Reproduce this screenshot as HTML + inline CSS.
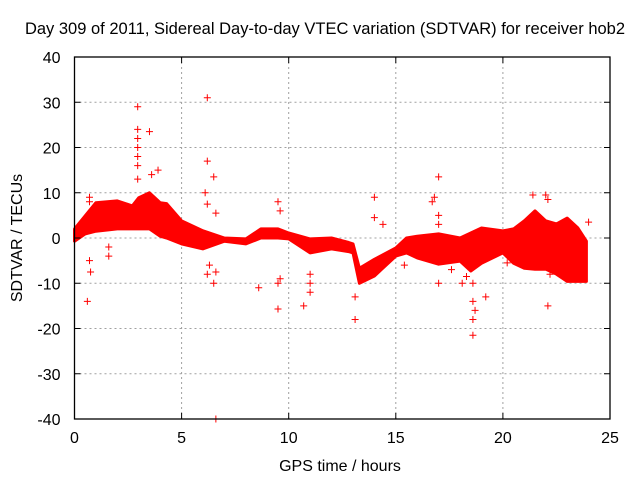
<!DOCTYPE html>
<html><head><meta charset="utf-8"><style>
body{margin:0;background:#fff}
svg{display:block;font-family:"Liberation Sans",Arial,sans-serif}
</style></head><body>
<svg id="chart" width="640" height="480" viewBox="0 0 640 480">
<text x="325" y="34" font-size="16.5" text-anchor="middle" fill="#000">Day 309 of 2011, Sidereal Day-to-day VTEC variation (SDTVAR) for receiver hob2</text>
<text transform="translate(22,238) rotate(-90)" font-size="16" text-anchor="middle">SDTVAR / TECUs</text>
<text x="340" y="471" font-size="16" text-anchor="middle">GPS time / hours</text>
<g id="grid"></g>
<g id="band"></g>
<g id="pts"></g>
<g id="axes"></g>
</svg>
<script>
const xTicks=[0,5,10,15,20,25];
const yTicks=[-40,-30,-20,-10,0,10,20,30,40];
const bandHours=[0,0.5,1,2,2.7,3,3.5,4,4.3,5,6,7,8,8.7,9.5,10,11,12,12.8,13,13.3,14,15,15.5,16,17,18,18.5,19,20,20.5,21,21.5,22,22.5,23,23.5,23.9];
const bandUpper=[2,4.9,7.8,8.2,7.1,8.9,10,7.8,7.6,3.8,1.6,0,-0.2,2,2,1.1,-0.2,0,-1,-1.3,-6.7,-4.7,-2.2,0,0.4,0.9,0,1.1,2.2,1.6,2,3.8,6,3.8,3.1,4.4,2.2,-0.7];
const bandLower=[-0.7,0.9,1.5,2,2,2,2,0.4,0,-1.3,-2.4,-0.7,-1.3,0,0,-0.2,-3.3,-2.4,-3,-3.3,-10,-8.4,-4,-3.3,-4.4,-5.8,-5.1,-7.3,-5.6,-3.3,-5.6,-6.7,-6.9,-6.9,-8,-9.6,-9.6,-9.6];
const ptHours=[2.95,2.95,2.95,2.95,2.95,2.95,2.95,3.5,6.2,6.2,6.5,6.1,6.2,6.6,3.9,3.6,0.7,0.7,0.7,0.75,0.6,1.6,1.6,6.6,6.5,6.6,6.2,8.6,9.5,9.5,9.5,9.6,10.7,11,11,11,13.1,13.1,14,14,14.4,15.4,16.8,16.7,17,17,17,18.6,18.6,18.6,18.6,18.7,19.2,21.4,22,22.1,22.1,22.2,24,18.1,18.3,17.6,17,20.2,9.6,6.3];
const ptValues=[29,24,22,20,18,16,13,23.5,31,17,13.5,10,7.5,5.5,15,14,9,8,-5,-7.5,-14,-2,-4,-40,-10,-7.5,-8,-11,-15.7,-10,8,6,-15,-12,-10,-8,-18,-13,9,4.5,3,-6,9,8,13.5,5,3,-21.5,-18,-14,-10,-16,-13,9.5,9.5,8.5,-15,-8,3.5,-10,-8.5,-7,-10,-5.5,-9,-6];
const X0=74.5,X1=610,Y0=419,Y1=57;
const sx=h=>X0+(h-0)/(25-0)*(X1-X0);
const sy=v=>Y0-(v+40)/80*(Y0-Y1);
const NS="http://www.w3.org/2000/svg";
function mk(tag,attrs,parent){const e=document.createElementNS(NS,tag);for(const k in attrs)e.setAttribute(k,attrs[k]);parent.appendChild(e);return e;}
const grid=document.getElementById('grid'),axes=document.getElementById('axes'),band=document.getElementById('band'),pts=document.getElementById('pts');
xTicks.forEach(t=>{
 if(t>0&&t<25){const l=mk('line',{x1:sx(t),x2:sx(t),y1:Y0,y2:Y1,stroke:'#a0a0a0','stroke-dasharray':'2,3'},grid);
 
 }
 mk('line',{x1:sx(t),x2:sx(t),y1:Y0,y2:Y0-6,stroke:'#000'},axes);
 mk('line',{x1:sx(t),x2:sx(t),y1:Y1,y2:Y1+6,stroke:'#000'},axes);
 const tx=mk('text',{x:sx(t),y:Y0+24,'font-size':16,'text-anchor':'middle'},axes);tx.textContent=t;
 
 
});
yTicks.forEach(t=>{
 if(t>-40&&t<40){const l=mk('line',{x1:X0,x2:X1,y1:sy(t),y2:sy(t),stroke:'#a0a0a0','stroke-dasharray':'2,3'},grid);
 
 }
 mk('line',{x1:X0,x2:X0+6,y1:sy(t),y2:sy(t),stroke:'#000'},axes);
 mk('line',{x1:X1,x2:X1-6,y1:sy(t),y2:sy(t),stroke:'#000'},axes);
 const tx=mk('text',{x:X0-14,y:sy(t)+6,'font-size':16,'text-anchor':'end'},axes);tx.textContent=t;
 
 
});
mk('rect',{x:X0,y:Y1,width:X1-X0,height:Y0-Y1,fill:'none',stroke:'#000','stroke-width':1.3},axes);
let d='';
bandHours.forEach((h,i)=>{d+=(i?'L':'M')+sx(h).toFixed(1)+','+sy(bandUpper[i]).toFixed(1);});
for(let i=bandHours.length-1;i>=0;i--)d+='L'+sx(bandHours[i]).toFixed(1)+','+sy(bandLower[i]).toFixed(1);
const p=mk('path',{d:d+'Z',fill:'#ff0000',stroke:'#ff0000','stroke-width':3,'stroke-linejoin':'round'},band);


ptHours.forEach((h,i)=>{
 const x=sx(h),y=sy(ptValues[i]);
 const g=mk('path',{d:`M${x-3.5},${y}H${x+3.5}M${x},${y-3.5}V${y+3.5}`,stroke:'#ff0000','stroke-width':1},pts);
 
 
});
</script>
</body></html>
